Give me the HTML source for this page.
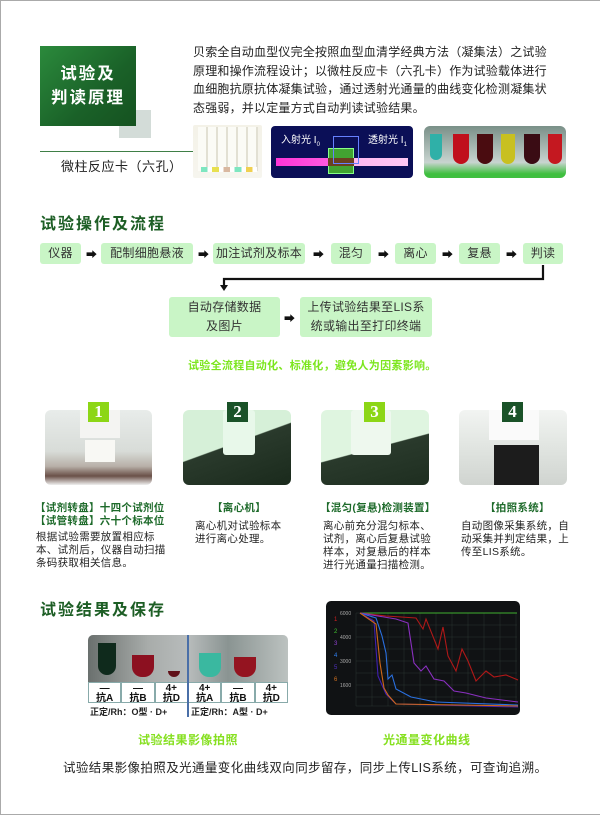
<!DOCTYPE html>
<html><head><meta charset="utf-8"><style>
*{margin:0;padding:0;box-sizing:border-box}
body{width:600px;height:816px;background:#fff;position:relative;overflow:hidden;font-family:"Liberation Sans","Noto Sans CJK SC",sans-serif;color:#222}
.a{position:absolute;white-space:nowrap}
.frame{position:absolute;left:0;top:0;width:601px;height:815px;border:1px solid #aaa;border-right:none}
.h{font-size:16px;font-weight:bold;color:#1d5e25;letter-spacing:2px}
.fb{position:absolute;background:#c9f5c6;border-radius:3px;font-size:12px;color:#333;display:flex;align-items:center;justify-content:center;text-align:center;line-height:19px;letter-spacing:.3px}
.ar{position:absolute;font-size:11px;font-weight:bold;color:#111}
.img{position:absolute;border-radius:6px;overflow:hidden}
.badge{position:absolute;width:21px;height:20px;color:#fff;font:bold 17px "Liberation Serif",serif;text-align:center;line-height:20px}
.t{font-size:10.5px;line-height:13px;letter-spacing:.3px;color:#222}
.gt{color:#1d6a2a;font-weight:bold}
</style></head><body>
<div class="frame"></div>

<!-- header -->
<div class="a" style="left:119px;top:110px;width:32px;height:28px;background:#d3dcd8"></div>
<div class="a" style="left:40px;top:46px;width:96px;height:80px;background:linear-gradient(135deg,#2b8a3c,#1a6128 60%,#155220);color:#fff;font-weight:bold;font-size:16.5px;letter-spacing:2px;text-align:center;line-height:24px;padding-top:16px">试验及<br>判读原理</div>
<div class="a" style="left:40px;top:151px;width:153px;height:1px;background:#3f7f46"></div>
<div class="a" style="left:61px;top:156px;font-size:13px;letter-spacing:.5px">微柱反应卡（六孔）</div>
<div class="a" style="left:193px;top:43px;font-size:12px;line-height:18.5px;letter-spacing:.2px">贝索全自动血型仪完全按照血型血清学经典方法（凝集法）之试验<br>原理和操作流程设计；以微柱反应卡（六孔卡）作为试验载体进行<br>血细胞抗原抗体凝集试验，通过透射光通量的曲线变化检测凝集状<br>态强弱，并以定量方式自动判读试验结果。</div>

<div class="img" style="left:193px;top:125px;width:69px;height:53px;border-radius:2px;background:linear-gradient(#f4f2e8,#f6f5ee)">
 <div style="position:absolute;left:5px;top:2px;width:60px;height:44px;background:repeating-linear-gradient(90deg,#fbfbf6 0 8px,#e2e0d3 8px 10px)"></div>
 <div style="position:absolute;left:8px;top:42px;width:56px;height:5px;background:linear-gradient(90deg,#7ee6c0 0 12%,#fff 12% 20%,#e8e050 20% 32%,#fff 32% 40%,#d9b8a0 40% 52%,#fff 52% 60%,#7ee6c0 60% 72%,#fff 72% 80%,#f0d050 80% 92%,#fff 92%)"></div>
</div>
<div class="img" style="left:271px;top:126px;width:142px;height:52px;background:#0b0f57;border-radius:4px">
 <div class="a" style="left:10px;top:5px;font-size:10px;color:#fff">入射光 I<sub style="font-size:6px">0</sub></div>
 <div class="a" style="left:97px;top:5px;font-size:10px;color:#fff">透射光 I<sub style="font-size:6px">1</sub></div>
 <div class="a" style="left:5px;top:32px;width:132px;height:8px;background:linear-gradient(90deg,#ff34d8,#ff60e0 45%,#ffb8f0 60%,#ffc8f4)"></div>
 <div class="a" style="left:57px;top:22px;width:26px;height:26px;background:rgba(80,200,40,.8);border:1px solid #8f8"></div>
 <div class="a" style="left:57px;top:32px;width:26px;height:8px;background:#6a4020"></div>
 <div class="a" style="left:62px;top:10px;width:26px;height:28px;border:1px solid #6680ff"></div>
</div>
<div class="img" style="left:424px;top:126px;width:142px;height:52px;background:linear-gradient(#7a9088,#c8d4d0 70%,#3fbf3f 92%)">
 <div style="position:absolute;left:6px;top:8px;width:12px;height:26px;border-radius:0 0 6px 6px;background:#2fb0a8"></div>
 <div style="position:absolute;left:29px;top:8px;width:16px;height:30px;border-radius:0 0 8px 8px;background:#c0101c"></div>
 <div style="position:absolute;left:53px;top:8px;width:16px;height:30px;border-radius:0 0 8px 8px;background:#4a0c10"></div>
 <div style="position:absolute;left:77px;top:8px;width:14px;height:30px;border-radius:0 0 7px 7px;background:#c8c020"></div>
 <div style="position:absolute;left:100px;top:8px;width:16px;height:30px;border-radius:0 0 8px 8px;background:#3a0c14"></div>
 <div style="position:absolute;left:124px;top:8px;width:14px;height:30px;border-radius:0 0 7px 7px;background:#c41820"></div>
</div>

<!-- section 2 -->
<div class="a h" style="left:40px;top:210px">试验操作及流程</div>
<div class="fb" style="left:40px;top:243px;width:41px;height:21px">仪器</div>
<div class="fb" style="left:101px;top:243px;width:92px;height:21px">配制细胞悬液</div>
<div class="fb" style="left:213px;top:243px;width:92px;height:21px">加注试剂及标本</div>
<div class="fb" style="left:331px;top:243px;width:40px;height:21px">混匀</div>
<div class="fb" style="left:395px;top:243px;width:41px;height:21px">离心</div>
<div class="fb" style="left:459px;top:243px;width:41px;height:21px">复悬</div>
<div class="fb" style="left:523px;top:243px;width:40px;height:21px">判读</div>
<div class="ar" style="left:86px;top:246px">➡</div>
<div class="ar" style="left:198px;top:246px">➡</div>
<div class="ar" style="left:313px;top:246px">➡</div>
<div class="ar" style="left:378px;top:246px">➡</div>
<div class="ar" style="left:442px;top:246px">➡</div>
<div class="ar" style="left:506px;top:246px">➡</div>
<svg class="a" style="left:0;top:0" width="600" height="300"><polyline points="543,265 543,279 224,279 224,287" fill="none" stroke="#111" stroke-width="2.2"/><polygon points="220,285 228,285 224,291" fill="#111"/></svg>
<div class="fb" style="left:169px;top:297px;width:111px;height:40px">自动存储数据<br>及图片</div>
<div class="fb" style="left:300px;top:297px;width:132px;height:40px">上传试验结果至LIS系<br>统或输出至打印终端</div>
<div class="ar" style="left:284px;top:310px">➡</div>
<div class="a" style="left:188px;top:357px;font-size:11px;font-weight:bold;color:#7ce61e;letter-spacing:.3px">试验全流程自动化、标准化，避免人为因素影响。</div>

<!-- section 3 -->
<div class="img" style="left:45px;top:410px;width:107px;height:75px;background:linear-gradient(#e8ecea,#d8dcd8 55%,#b8b0a8 75%,#6a5048 88%,#f0f0f0)">
 <div style="position:absolute;left:35px;top:0;width:40px;height:28px;background:#f4f4f2"></div>
 <div style="position:absolute;left:40px;top:30px;width:30px;height:22px;background:#f8f8f4"></div>
</div>
<div class="img" style="left:183px;top:410px;width:108px;height:75px;background:linear-gradient(160deg,#d6f0d8 0 45%,#2a3a2c 46%,#1a2a1c)">
 <div style="position:absolute;left:40px;top:0;width:32px;height:45px;background:#e8f8ea;border-radius:3px"></div>
</div>
<div class="img" style="left:321px;top:410px;width:108px;height:75px;background:linear-gradient(165deg,#dff5e0 0 50%,#2a3a2c 51%,#1e2e20)">
 <div style="position:absolute;left:30px;top:0;width:40px;height:45px;background:#eef8ee;border-radius:3px"></div>
</div>
<div class="img" style="left:459px;top:410px;width:108px;height:75px;background:linear-gradient(#f2f4f2,#e4e8e4 40%,#d0d4d0)">
 <div style="position:absolute;left:30px;top:0;width:50px;height:30px;background:#fafafa"></div>
 <div style="position:absolute;left:35px;top:35px;width:45px;height:40px;background:#1c1c1c"></div>
</div>
<div class="badge" style="left:88px;top:402px;background:#8cd616">1</div>
<div class="badge" style="left:227px;top:402px;background:#1a5228">2</div>
<div class="badge" style="left:364px;top:402px;background:#8cd616">3</div>
<div class="badge" style="left:502px;top:402px;background:#1a5228">4</div>

<div class="a t" style="left:35px;top:502px"><span class="gt">【试剂转盘】十四个试剂位<br>【试管转盘】六十个标本位</span></div>
<div class="a t" style="left:36px;top:531px">根据试验需要放置相应标<br>本、试剂后，仪器自动扫描<br>条码获取相关信息。</div>
<div class="a t gt" style="left:212px;top:502px">【离心机】</div>
<div class="a t" style="left:195px;top:520px">离心机对试验标本<br>进行离心处理。</div>
<div class="a t gt" style="left:320px;top:502px">【混匀(复悬)检测装置】</div>
<div class="a t" style="left:323px;top:520px">离心前充分混匀标本、<br>试剂，离心后复悬试验<br>样本，对复悬后的样本<br>进行光通量扫描检测。</div>
<div class="a t gt" style="left:485px;top:502px">【拍照系统】</div>
<div class="a t" style="left:461px;top:520px">自动图像采集系统，自<br>动采集并判定结果，上<br>传至LIS系统。</div>

<!-- section 4 -->
<div class="a h" style="left:40px;top:596px">试验结果及保存</div>
<div class="img" style="left:88px;top:635px;width:200px;height:82px;background:#fff;border-radius:5px">
 <div style="position:absolute;left:0;top:0;width:200px;height:47px;background:linear-gradient(90deg,#6a706e,#a8acaa 30%,#b8bcbc 50%,#8a9492 70%,#bcc2c0)"></div>
 <div style="position:absolute;left:10px;top:8px;width:18px;height:32px;border-radius:0 0 9px 9px;background:#0f2a1c"></div>
 <div style="position:absolute;left:44px;top:20px;width:22px;height:22px;border-radius:0 0 10px 10px;background:#8c1020"></div>
 <div style="position:absolute;left:80px;top:36px;width:12px;height:6px;border-radius:0 0 6px 6px;background:#601018"></div>
 <div style="position:absolute;left:111px;top:18px;width:22px;height:24px;border-radius:0 0 10px 10px;background:#3ab8a0"></div>
 <div style="position:absolute;left:146px;top:22px;width:22px;height:20px;border-radius:0 0 10px 10px;background:#941420"></div>
 <div style="position:absolute;left:0;top:47px;width:200px;height:21px;display:flex;font:bold 10px/10px 'Liberation Sans','Noto Sans CJK SC',sans-serif;text-align:center;color:#111">
  <div style="flex:1;border:1px solid #8aa;padding-top:1px">—<br>抗A</div><div style="flex:1;border:1px solid #8aa;padding-top:1px">—<br>抗B</div><div style="flex:1;border:1px solid #8aa;padding-top:1px">4+<br>抗D</div><div style="flex:1;border:1px solid #8aa;padding-top:1px">4+<br>抗A</div><div style="flex:1;border:1px solid #8aa;padding-top:1px">—<br>抗B</div><div style="flex:1;border:1px solid #8aa;padding-top:1px">4+<br>抗D</div>
 </div>
 <div style="position:absolute;left:2px;top:70px;font-size:9px;font-weight:bold;color:#222;white-space:nowrap">正定/Rh：O型 · D+</div>
 <div style="position:absolute;left:103px;top:70px;font-size:9px;font-weight:bold;color:#222;white-space:nowrap">正定/Rh：A型 · D+</div>
 <div style="position:absolute;left:99px;top:0;width:2px;height:82px;background:#4a6fa8"></div>
</div>

<svg class="a" style="left:326px;top:601px" width="194" height="114" viewBox="0 0 194 114">
 <rect x="0" y="0" width="194" height="114" rx="5" fill="#101214"/>
 <g stroke="#2a3430" stroke-width=".5">
  <path d="M30 12H191M30 24H191M30 36H191M30 48H191M30 60H191M30 72H191M30 84H191M30 96H191M30 105H191"/>
  <path d="M30 12V105M46 12V105M62 12V105M78 12V105M94 12V105M110 12V105M126 12V105M142 12V105M158 12V105M174 12V105M190 12V105"/>
 </g>
 <g font-size="5" fill="#aaa" font-family="Liberation Sans"><text x="14" y="14">6000</text><text x="14" y="38">4000</text><text x="14" y="62">3000</text><text x="14" y="86">1600</text></g>
 <g font-size="6" font-family="Liberation Sans"><text x="8" y="20" fill="#d02020">1</text><text x="8" y="32" fill="#40c030">2</text><text x="8" y="44" fill="#9040d0">3</text><text x="8" y="56" fill="#3080f0">4</text><text x="8" y="68" fill="#5030c0">5</text><text x="8" y="80" fill="#d07020">6</text></g>
 <g fill="none" stroke-width="1.1">
  <polyline stroke="#40b030" points="34,12 191,12"/>
  <polyline stroke="#b01818" points="34,12 60,15 90,17 97,28 100,18 112,48 117,26 122,55 130,70 136,48 142,60 150,80 160,70 168,76 180,74 192,79"/>
  <polyline stroke="#8a30c0" points="34,12 70,18 82,22 88,62 95,70 100,65 108,78 118,80 128,90 140,92 160,97 192,101"/>
  <polyline stroke="#2a70e0" points="34,12 50,17 56,35 60,52 62,78 66,74 70,88 85,96 110,101 192,104"/>
  <polyline stroke="#4020b0" points="34,12 48,20 52,75 60,93 70,103 192,106"/>
  <polyline stroke="#d06818" points="34,12 50,23 54,62 58,87 62,94 70,103 192,105"/>
 </g>
</svg>

<div class="a" style="left:138px;top:731px;font-size:12px;font-weight:bold;color:#86e020;letter-spacing:.5px">试验结果影像拍照</div>
<div class="a" style="left:383px;top:731px;font-size:12px;font-weight:bold;color:#86e020;letter-spacing:.5px">光通量变化曲线</div>
<div class="a" style="left:63px;top:757px;font-size:12.5px;letter-spacing:.4px">试验结果影像拍照及光通量变化曲线双向同步留存，同步上传LIS系统，可查询追溯。</div>
</body></html>
